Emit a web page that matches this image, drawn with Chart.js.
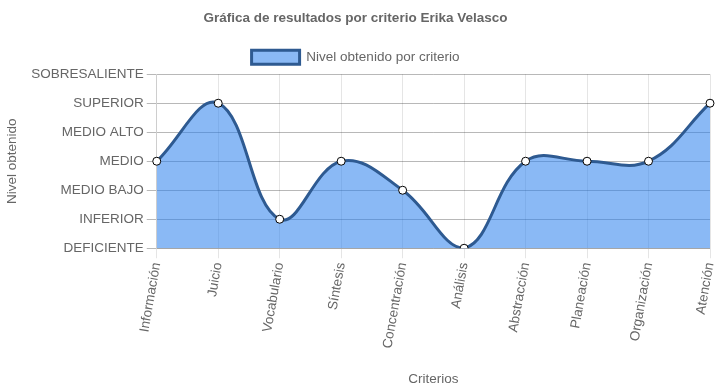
<!DOCTYPE html>
<html>
<head>
<meta charset="utf-8">
<script src="https://cdn.jsdelivr.net/npm/chart.js@4/dist/chart.umd.min.js"></script>
<style>
  body { margin: 0; background: #fff; }
  #wrap { width: 715px; height: 391px; }
</style>
</head>
<body>
<div id="wrap"><canvas id="grafica"></canvas></div>
<script>
// niveles (eje y) y criterios (eje x)
const niveles = ['DEFICIENTE', 'INFERIOR', 'MEDIO BAJO', 'MEDIO', 'MEDIO ALTO', 'SUPERIOR', 'SOBRESALIENTE'];
const criterios = ['Información', 'Juicio', 'Vocabulario', 'Síntesis', 'Concentración', 'Análisis', 'Abstracción', 'Planeación', 'Organización', 'Atención'];
const resultados = ['MEDIO', 'SUPERIOR', 'INFERIOR', 'MEDIO', 'MEDIO BAJO', 'DEFICIENTE', 'MEDIO', 'MEDIO', 'MEDIO', 'SUPERIOR'];

Chart.defaults.font.family = 'Arial, "Liberation Sans", Helvetica, sans-serif';
Chart.defaults.color = '#666';

var ctx = document.getElementById('grafica');
var grafica = new Chart(ctx, {
  type: 'line',
  data: {
    labels: criterios,
    datasets: [{
      label: 'Nivel obtenido por criterio',
      data: resultados.map(n => niveles.indexOf(n)),
      fill: true,
      backgroundColor: 'rgba(42,128,237,0.55)',
      borderColor: '#2e5a91',
      borderWidth: 3,
      tension: 0.4,
      pointRadius: 4,
      pointBackgroundColor: '#fff',
      pointBorderColor: '#000',
      pointBorderWidth: 1
    }]
  },
  options: {
    responsive: true,
    maintainAspectRatio: false,
    animation: false,
    layout: { padding: { left: 0, right: 4, top: 0, bottom: 0 } },
    plugins: {
      title: {
        display: true,
        text: 'Gráfica de resultados por criterio Erika Velasco',
        font: { size: 13.5, weight: 'bold' },
        padding: { top: 10, bottom: 14 }
      },
      legend: {
        labels: {
          boxWidth: 48,
          boxHeight: 14,
          font: { size: 13.5 }
        }
      },
      tooltip: { enabled: false }
    },
    scales: {
      x: {
        title: { display: true, text: 'Criterios', font: { size: 13.5 }, padding: { top: 18 } },
        ticks: { minRotation: 80, maxRotation: 80, font: { size: 13.5 }, autoSkip: false },
        grid: { color: 'rgba(0,0,0,0.1)', tickLength: 10 },
        afterFit: function (scale) { scale.paddingRight = 0; }
      },
      y: {
        min: 0,
        max: 6,
        title: { display: true, text: 'Nivel obtenido', font: { size: 13.5 }, padding: { top: 4, bottom: 8 } },
        ticks: {
          stepSize: 1,
          font: { size: 13.5 },
          callback: v => niveles[v]
        },
        grid: { color: 'rgba(0,0,0,0.28)', tickLength: 10 }
      }
    }
  }
});
</script>
</body>
</html>
